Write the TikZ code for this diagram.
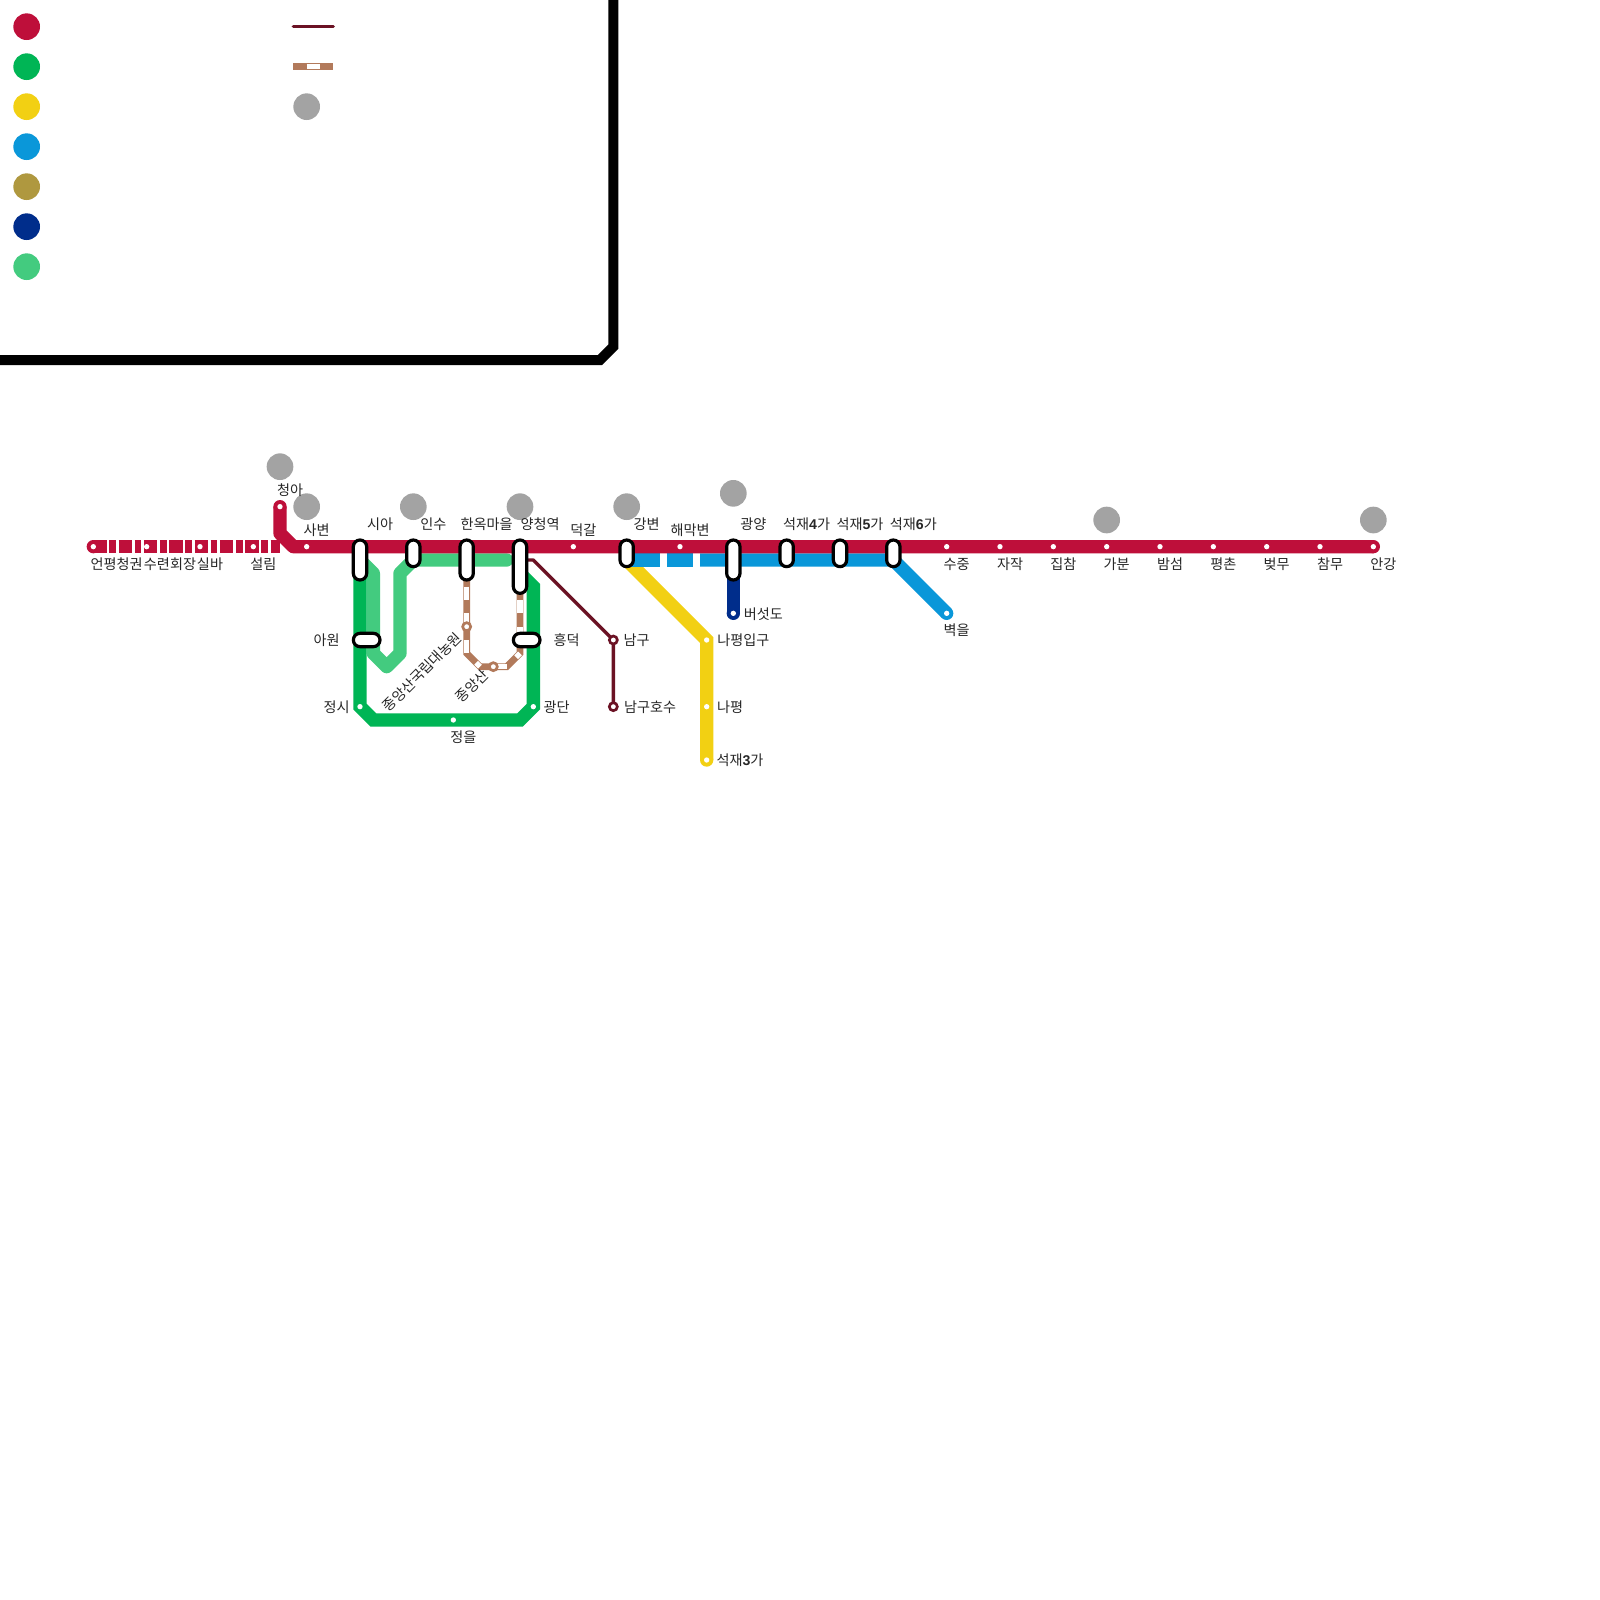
\documentclass[tikz,border=0pt]{standalone}
\usepackage{fontspec}
\setmainfont{Noto Sans CJK KR}
\newfontfamily\digitfont{Liberation Sans}[BoldFont={Liberation Sans Bold}]
\definecolor{lred}{HTML}{BE0F3A}
\definecolor{lgreen}{HTML}{00B555}
\definecolor{lyellow}{HTML}{F2D013}
\definecolor{lblue}{HTML}{0A97D9}
\definecolor{lgold}{HTML}{AF983F}
\definecolor{lnavy}{HTML}{002D8B}
\definecolor{llight}{HTML}{43CB7F}
\definecolor{lmaroon}{HTML}{6B1224}
\definecolor{lbrown}{HTML}{B27A5B}
\definecolor{lgray}{HTML}{A3A3A3}
\newcommand{\dg}[1]{{\digitfont\bfseries #1}}
\tikzset{
  x=0.75pt,y=-0.75pt,
  trunk/.style={line width=10pt},
  thinline/.style={line width=2.5pt,color=lmaroon},
  hop/.style={draw=black,fill=white,line width=2.4pt,rounded corners=5pt,inner sep=0pt},
  stopdot/.style={circle,fill=white,inner sep=0pt,minimum size=4pt},
  ring/.style={circle,fill=white,draw=#1,line width=2pt,inner sep=0pt,minimum size=6pt},
  walk/.style={circle,fill=lgray,inner sep=0pt,minimum size=20pt},
  key/.style={circle,fill=#1,inner sep=0pt,minimum size=20pt},
  lbl/.style={inner sep=0pt,font=\fontsize{10.6pt}{12pt}\selectfont,text=black!85},
  whitedash/.style={white,line width=3.9pt,dash pattern=on 10pt off 10pt,dash phase=10pt},
}
\newcommand{\hopbox}[5]{\node[hop,minimum width=#4*0.75pt,minimum height=#5*0.75pt] (#1) at (#2,#3) {};}
\begin{document}
\begin{tikzpicture}
\useasboundingbox (0,0) rectangle (1600,1600);
\fill[white] (0,0) rectangle (1600,1600);
% legend
\foreach \n/\c/\y in {a/lred/26.67,b/lgreen/66.67,c/lyellow/106.67,d/lblue/146.67,e/lgold/186.67,f/lnavy/226.67,g/llight/266.67}
  \node[key=\c] (key\n) at (26.67,\y) {};
\coordinate (lega) at (293.33,26.67); \coordinate (legb) at (333.33,26.67);
\draw[thinline,line cap=round] (lega) -- (legb);
\coordinate (legc) at (293.33,66.67); \coordinate (legd) at (333.33,66.67);
\coordinate (lege) at (306.67,66.67); \coordinate (legf) at (320,66.67);
\draw[lbrown,line width=5pt] (legc) -- (legd);
\draw[white,line width=3.9pt] (lege) -- (legf);
\node[walk] (keywalk) at (306.67,106.67) {};
\draw[line width=7.5pt,line join=miter] (0,360) -- (600,360) -- (613.33,346.67) -- (613.33,0);

% station coordinates
\coordinate (yp) at (93.33,546.67);
\coordinate (cheonga) at (280,506.67);
\coordinate (angang) at (1373.33,546.67);
\coordinate (kangbyeon) at (626.67,560);
\coordinate (napyeongip) at (706.67,640);
\coordinate (seok3) at (706.67,760);
\coordinate (gwangyang) at (733.33,560);
\coordinate (beoseot) at (733.33,613.33);
\coordinate (seok6) at (893.33,560);
\coordinate (byeok) at (946.67,613.33);
\coordinate (namgu) at (613.33,640);
\coordinate (namguho) at (613.33,706.67);

% light green
\draw[llight,trunk,line join=round,line cap=round] (360,560) -- (373.33,573.33) -- (373.33,653.33) -- (386.67,666.67) -- (400,653.33) -- (400,573.33) -- (413.33,560) -- (506.67,560);
% dark green
\draw[lgreen,trunk,line join=miter] (360,546.67) -- (360,706.67) -- (373.33,720) -- (520,720) -- (533.33,706.67) -- (533.33,586.67) -- (520,573.33);
% brown
\draw[lbrown,line width=5pt,line join=miter] (466.67,573.33) -- (466.67,653.33) -- (480,666.67) -- (506.67,666.67) -- (520,653.33) -- (520,573.33);
\draw[whitedash] (466.67,573.33) -- (466.67,653.33);
\draw[whitedash] (466.67,653.33) -- (480,666.67);
\draw[whitedash] (480,666.67) -- (506.67,666.67);
\draw[whitedash] (506.67,666.67) -- (520,653.33);
\draw[whitedash] (520,653.33) -- (520,573.33);
\node[ring=lbrown] (hs1) at (466.67,626.67) {};
\node[ring=lbrown] (hs2) at (493.33,666.67) {};
% maroon
\draw[thinline,line join=round] (520,560) -- (533.33,560) -- (namgu) -- (namguho);
\node[ring=lmaroon] (nm1) at (namgu) {};
\node[ring=lmaroon] (nm2) at (namguho) {};
% yellow
\draw[lyellow,trunk] (kangbyeon) -- (napyeongip) -- (seok3);
\fill[lyellow] (seok3) circle (6.67);
% navy
\draw[lnavy,trunk] (gwangyang) -- (beoseot);
\fill[lnavy] (beoseot) circle (6.67);
% blue
\draw[lblue,trunk] (626.67,560) -- (660,560);
\draw[lblue,trunk] (666.67,560) -- (693.33,560);
\draw[lblue,trunk] (700,560) -- (seok6) -- (byeok);
\fill[lblue] (byeok) circle (6.67);
% red
\fill[lred] (yp) circle (6.67);
\draw[lred,trunk,dash pattern=on 10pt off 2pt on 5pt off 2pt] (yp) -- (280,546.67);
\draw[lred,trunk,line join=round] (cheonga) -- (280,533.33) -- (293.33,546.67) -- (angang);
\fill[lred] (cheonga) circle (6.67);
\fill[lred] (angang) circle (6.67);

% small stops
\foreach \n/\x/\y in {s1/93.33/546.67,s2/146.67/546.67,s3/200/546.67,s4/253.33/546.67,s5/280/506.67,s6/306.67/546.67,
 s7/573.33/546.67,s8/680/546.67,s9/946.67/546.67,s10/1000/546.67,s11/1053.33/546.67,s12/1106.67/546.67,s13/1160/546.67,
 s14/1213.33/546.67,s15/1266.67/546.67,s16/1320/546.67,s17/1373.33/546.67,
 g1/360/706.67,g2/453.33/720,g3/533.33/706.67,
 y1/706.67/640,y2/706.67/706.67,y3/706.67/760,
 n1/733.33/613.33,b1/946.67/613.33}
  \node[stopdot] (\n) at (\x,\y) {};

% interchange boxes
\hopbox{hsia}{360}{560}{13.33}{40}
\hopbox{hawon}{366.67}{640}{26.67}{13.33}
\hopbox{hinsu}{413.33}{553.33}{13.33}{26.67}
\hopbox{hhan}{466.67}{560}{13.33}{40}
\hopbox{hyang}{520}{566.67}{13.33}{53.33}
\hopbox{hheung}{526.67}{640}{26.67}{13.33}
\hopbox{hkang}{626.67}{553.33}{13.33}{26.67}
\hopbox{hgwang}{733.33}{560}{13.33}{40}
\hopbox{hs4}{786.67}{553.33}{13.33}{26.67}
\hopbox{hs5}{840}{553.33}{13.33}{26.67}
\hopbox{hs6}{893.33}{553.33}{13.33}{26.67}

% walk circles
\foreach \n/\x/\y in {w1/280/466.67,w2/306.67/506.67,w3/413.33/506.67,w4/520/506.67,w5/626.67/506.67,w6/733.33/493.33,w7/1106.67/520,w8/1373.33/520}
  \node[walk] (\n) at (\x,\y) {};

% labels
\foreach \n/\x/\y/\t in {
 l1/116.67/564/언평청권,l2/170/564/수련회장,l3/210/564/실바,l4/263.33/564/설림,
 l5/290/490.6/청아,l6/316.67/530.6/사변,l7/380/524/시아,l8/433.33/524/인수,l9/486.67/524/한옥마을,
 l10/540/524/양청역,l11/583.33/530.6/덕갈,l12/646.67/524/강변,l13/690/530.6/해막변,l14/753.33/524/광양,
 l15/956.67/564/수중,l16/1010/564/자작,l17/1063.33/564/집참,l18/1116.67/564/가분,l19/1170/564/밤섬,
 l20/1223.33/564/평촌,l21/1276.67/564/벚무,l22/1330/564/참무,l23/1383.33/564/안강,l24/956.67/630.6/벽을,
 l25/326.67/640.6/아원,l26/336.67/707.3/정시,l27/463.33/737.3/정을,l28/556.67/707.3/광단,l29/566.67/640.6/흥덕,
 l30/636.67/640.6/남구,l31/650/707.3/남구호수,l32/743.33/640.6/나평입구,l33/730/707.3/나평,l34/763.33/614/버섯도}
  \node[lbl] (\n) at (\x,\y) {\t};
\node[lbl] (l35) at (806.67,524) {석재\dg{4}가};
\node[lbl] (l36) at (860,524) {석재\dg{5}가};
\node[lbl] (l37) at (913.33,524) {석재\dg{6}가};
\node[lbl] (l38) at (740,760.6) {석재\dg{3}가};
\node[lbl,rotate=45] (l39) at (422,672) {종앙산국립대농원};
\node[lbl,rotate=45] (l40) at (472,686) {종앙산};
\end{tikzpicture}
\end{document}
